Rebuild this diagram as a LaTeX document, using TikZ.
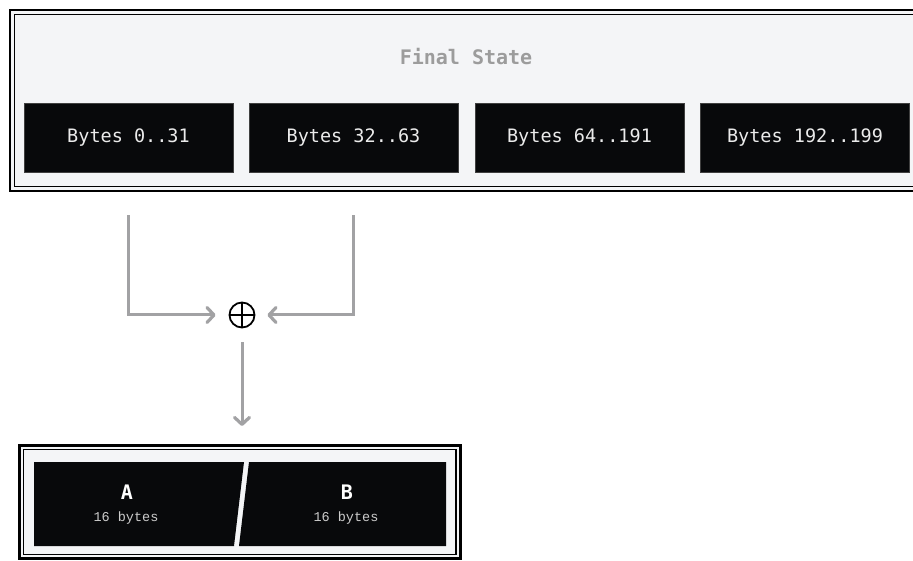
\documentclass[tikz,border=0pt]{standalone}
\usepackage{fontspec}
\setmonofont{DejaVu Sans Mono}
\newfontfamily\sizefont{Liberation Mono}
\usetikzlibrary{arrows.meta}

\definecolor{panelbg}{HTML}{F4F5F7}
\definecolor{cellbg}{HTML}{08090B}
\definecolor{flowgray}{HTML}{A2A2A4}
\definecolor{titlegray}{HTML}{9C9C9C}

\tikzset{
  cell/.style={draw=black!75,line width=0.8pt,fill=cellbg,text=white!92!black,
    minimum width=209pt,minimum height=69pt,inner sep=0pt,
    font=\ttfamily\fontsize{18.5}{20}\selectfont},
  flow/.style={draw=flowgray,line width=3pt,
    -{Straight Barb[length=7pt,width=15pt,line width=3.2pt,round]}},
  xorop/.style={circle,draw,line width=1.8pt,minimum size=25pt,inner sep=0pt,
    path picture={\draw[line width=1.8pt]
      (path picture bounding box.north) -- (path picture bounding box.south)
      (path picture bounding box.west) -- (path picture bounding box.east);}}
}

\begin{document}
\begin{tikzpicture}[x=1pt,y=-1pt]
  \useasboundingbox (0,0) rectangle (913,561);

  % final state panel
  \fill[panelbg] (10,10) rectangle (940,191);
  \draw[line width=2.5pt] (10,10) rectangle (940,191);
  \draw[line width=1.2pt] (14.5,14.5) rectangle (940,186.5);
  \node[font=\ttfamily\bfseries\fontsize{20}{22}\selectfont,text=titlegray] (title) at (466,57) {Final State};

  \foreach \i/\cx/\txt in {0/128.5/{Bytes 0..31},1/353.5/{Bytes 32..63},
                           2/579.5/{Bytes 64..191},3/805/{Bytes 192..199}}
    \node[cell] (b\i) at (\cx,137.5) {\txt};

  % xor of the first two blocks
  \node[xorop] (plus) at (242,315) {};
  \draw[flow,shorten >=13pt] ([yshift=-43pt]b0.south) |- (plus);
  \draw[flow,shorten >=12pt] ([yshift=-43pt]b1.south) |- (plus);

  % result panel
  \coordinate (res) at (242,445);
  \draw[flow,shorten <=14pt,shorten >=19pt] (plus) -- (res);
  \fill[panelbg] (19.5,445.5) rectangle (460.5,558.5);
  \draw[line width=2.5pt] (19.5,445.5) rectangle (460.5,558.5);
  \draw[line width=1.2pt] (23.5,449.5) rectangle (456,554.5);
  \fill[cellbg] (34,462) -- (244,462) -- (234,546) -- (34,546) -- cycle;
  \fill[cellbg] (249,462) -- (446,462) -- (446,546) -- (239,546) -- cycle;
  \node[text=white,font=\ttfamily\bfseries\fontsize{20}{22}\selectfont] (nameA) at (127,492) {A};
  \node[text=white!80!black,font=\sizefont\fontsize{13.5}{15}\selectfont] (sizeA) at (126,518) {16 bytes};
  \node[text=white,font=\ttfamily\bfseries\fontsize{20}{22}\selectfont] (nameB) at (347,492) {B};
  \node[text=white!80!black,font=\sizefont\fontsize{13.5}{15}\selectfont] (sizeB) at (346,518) {16 bytes};
\end{tikzpicture}
\end{document}
